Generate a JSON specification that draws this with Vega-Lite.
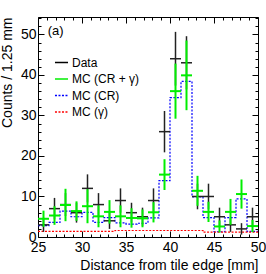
{
  "$schema": "https://vega.github.io/schema/vega-lite/v6.json",
  "autosize": "none",
  "width": 220,
  "height": 220,
  "padding": {"left": 38, "top": 17, "right": 8, "bottom": 37},
  "background": "white",
  "config": {
    "view": {"stroke": "black", "strokeWidth": 1},
    "font": "Liberation Sans",
    "axis": {"domain": false, "grid": false, "labelFont": "Liberation Sans", "titleFont": "Liberation Sans", "labelColor": "black", "titleColor": "black", "tickColor": "black", "labelFontSize": 14, "titleFontSize": 14, "titleFontWeight": "normal"}
  },
  "datasets": {
    "bins": [
      {"lo": 25.0, "hi": 26.25, "c": 25.625, "d": 3, "dlo": 1.27, "dhi": 4.73, "m": 4.5, "mlo": 2.5, "mhi": 6.5},
      {"lo": 26.25, "hi": 27.5, "c": 26.875, "d": 7, "dlo": 4.35, "dhi": 9.65, "m": 5.3, "mlo": 3.0, "mhi": 7.6},
      {"lo": 27.5, "hi": 28.75, "c": 28.125, "d": 8, "dlo": 5.17, "dhi": 10.83, "m": 7.9, "mlo": 3.9, "mhi": 11.9},
      {"lo": 28.75, "hi": 30.0, "c": 29.375, "d": 6, "dlo": 3.55, "dhi": 8.45, "m": 6.4, "mlo": 4.0, "mhi": 8.8},
      {"lo": 30.0, "hi": 31.25, "c": 30.625, "d": 12, "dlo": 8.54, "dhi": 15.46, "m": 7.6, "mlo": 3.4, "mhi": 11.8},
      {"lo": 31.25, "hi": 32.5, "c": 31.875, "d": 8, "dlo": 5.17, "dhi": 10.83, "m": 5.1, "mlo": 2.4, "mhi": 7.8},
      {"lo": 32.5, "hi": 33.75, "c": 33.125, "d": 4, "dlo": 2.0, "dhi": 6.0, "m": 6.2, "mlo": 3.3, "mhi": 9.1},
      {"lo": 33.75, "hi": 35.0, "c": 34.375, "d": 9, "dlo": 6.0, "dhi": 12.0, "m": 5.1, "mlo": 2.4, "mhi": 7.8},
      {"lo": 35.0, "hi": 36.25, "c": 35.625, "d": 6, "dlo": 3.55, "dhi": 8.45, "m": 4.7, "mlo": 2.3, "mhi": 7.1},
      {"lo": 36.25, "hi": 37.5, "c": 36.875, "d": 5, "dlo": 2.76, "dhi": 7.24, "m": 4.6, "mlo": 2.4, "mhi": 6.8},
      {"lo": 37.5, "hi": 38.75, "c": 38.125, "d": 9, "dlo": 6.0, "dhi": 12.0, "m": 6.1, "mlo": 3.6, "mhi": 8.6},
      {"lo": 38.75, "hi": 40.0, "c": 39.375, "d": 26, "dlo": 20.9, "dhi": 31.1, "m": 15.4, "mlo": 11.6, "mhi": 19.2},
      {"lo": 40.0, "hi": 41.25, "c": 40.625, "d": 44, "dlo": 37.37, "dhi": 50.63, "m": 36.0, "mlo": 29.2, "mhi": 42.8},
      {"lo": 41.25, "hi": 42.5, "c": 41.875, "d": 43, "dlo": 36.44, "dhi": 49.56, "m": 39.9, "mlo": 31.3, "mhi": 48.5},
      {"lo": 42.5, "hi": 43.75, "c": 43.125, "d": 10, "dlo": 6.84, "dhi": 13.16, "m": 11.4, "mlo": 7.7, "mhi": 15.1},
      {"lo": 43.75, "hi": 45.0, "c": 44.375, "d": 10, "dlo": 6.84, "dhi": 13.16, "m": 6.2, "mlo": 3.7, "mhi": 8.7},
      {"lo": 45.0, "hi": 46.25, "c": 45.625, "d": 5, "dlo": 2.76, "dhi": 7.24, "m": 2.6, "mlo": 1.1, "mhi": 4.1},
      {"lo": 46.25, "hi": 47.5, "c": 46.875, "d": 3, "dlo": 1.27, "dhi": 4.73, "m": 6.2, "mlo": 3.0, "mhi": 9.4},
      {"lo": 47.5, "hi": 48.75, "c": 48.125, "d": 2, "dlo": 0.59, "dhi": 3.41, "m": 10.6, "mlo": 7.0, "mhi": 14.2},
      {"lo": 48.75, "hi": 50.0, "c": 49.375, "d": 5, "dlo": 2.76, "dhi": 7.24, "m": 2.7, "mlo": 1.2, "mhi": 4.2}
    ],
    "steps": [
      {"e": 25.0, "s": "MC (CR)", "v": 2.8}, {"e": 26.25, "s": "MC (CR)", "v": 3.6}, {"e": 27.5, "s": "MC (CR)", "v": 6.4}, {"e": 28.75, "s": "MC (CR)", "v": 5.0},
      {"e": 30.0, "s": "MC (CR)", "v": 6.1}, {"e": 31.25, "s": "MC (CR)", "v": 3.6}, {"e": 32.5, "s": "MC (CR)", "v": 4.8}, {"e": 33.75, "s": "MC (CR)", "v": 3.5},
      {"e": 35.0, "s": "MC (CR)", "v": 3.2}, {"e": 36.25, "s": "MC (CR)", "v": 3.4}, {"e": 37.5, "s": "MC (CR)", "v": 4.7}, {"e": 38.75, "s": "MC (CR)", "v": 13.9},
      {"e": 40.0, "s": "MC (CR)", "v": 34.4}, {"e": 41.25, "s": "MC (CR)", "v": 38.4}, {"e": 42.5, "s": "MC (CR)", "v": 9.9}, {"e": 43.75, "s": "MC (CR)", "v": 4.8},
      {"e": 45.0, "s": "MC (CR)", "v": 1.3}, {"e": 46.25, "s": "MC (CR)", "v": 4.8}, {"e": 47.5, "s": "MC (CR)", "v": 9.4}, {"e": 48.75, "s": "MC (CR)", "v": 1.4},
      {"e": 50.0, "s": "MC (CR)", "v": 1.4},
      {"e": 25.0, "s": "MC (γ)", "v": 1.4}, {"e": 26.25, "s": "MC (γ)", "v": 1.4}, {"e": 27.5, "s": "MC (γ)", "v": 1.4}, {"e": 28.75, "s": "MC (γ)", "v": 1.4},
      {"e": 30.0, "s": "MC (γ)", "v": 1.4}, {"e": 31.25, "s": "MC (γ)", "v": 1.4}, {"e": 32.5, "s": "MC (γ)", "v": 1.4}, {"e": 33.75, "s": "MC (γ)", "v": 1.6},
      {"e": 35.0, "s": "MC (γ)", "v": 1.6}, {"e": 36.25, "s": "MC (γ)", "v": 1.6}, {"e": 37.5, "s": "MC (γ)", "v": 1.6}, {"e": 38.75, "s": "MC (γ)", "v": 1.6},
      {"e": 40.0, "s": "MC (γ)", "v": 1.6}, {"e": 41.25, "s": "MC (γ)", "v": 1.6}, {"e": 42.5, "s": "MC (γ)", "v": 1.6}, {"e": 43.75, "s": "MC (γ)", "v": 1.2},
      {"e": 45.0, "s": "MC (γ)", "v": 1.2}, {"e": 46.25, "s": "MC (γ)", "v": 1.2}, {"e": 47.5, "s": "MC (γ)", "v": 1.2}, {"e": 48.75, "s": "MC (γ)", "v": 1.2},
      {"e": 50.0, "s": "MC (γ)", "v": 1.2}
    ]
  },
  "resolve": {"axis": {"x": "independent", "y": "independent"}},
  "layer": [
    {
      "data": {"name": "steps"},
      "mark": {"type": "line", "interpolate": "step-after", "clip": true},
      "encoding": {
        "x": {"field": "e", "type": "quantitative", "scale": {"domain": [25, 50], "nice": false, "zero": false},
          "axis": {"orient": "bottom", "title": "Distance from tile edge [mm]", "titleAnchor": "end", "titlePadding": 4,
            "values": [25,26,27,28,29,30,31,32,33,34,35,36,37,38,39,40,41,42,43,44,45,46,47,48,49,50],
            "labelExpr": "datum.value % 5 === 0 ? datum.label : ''",
            "tickSize": {"condition": {"test": "datum.value % 5 === 0", "value": -6}, "value": -3},
            "labelPadding": 9, "labelFlush": false}},
        "y": {"field": "v", "type": "quantitative", "scale": {"domain": [0, 54.3], "nice": false},
          "axis": {"orient": "left", "title": "Counts / 1.25 mm", "titleAnchor": "end", "titlePadding": 6,
            "values": [0,2,4,6,8,10,12,14,16,18,20,22,24,26,28,30,32,34,36,38,40,42,44,46,48,50,52,54],
            "labelExpr": "datum.value % 10 === 0 ? datum.label : ''",
            "tickSize": {"condition": {"test": "datum.value % 10 === 0", "value": -6}, "value": -3},
            "labelPadding": 8}},
        "color": {"field": "s", "type": "nominal",
          "scale": {"domain": ["Data", "MC (CR + γ)", "MC (CR)", "MC (γ)"], "range": ["#000000", "#00ee00", "#0000ff", "#ff0000"]},
          "legend": {"title": null, "orient": "none", "legendX": 16, "legendY": 38, "symbolType": "stroke", "symbolSize": 170,
            "labelFontSize": 12, "labelFont": "Liberation Sans", "labelColor": "black", "rowPadding": 2.5, "labelOffset": 3, "symbolStrokeWidth": 1.5}},
        "strokeDash": {"field": "s", "type": "nominal",
          "scale": {"domain": ["Data", "MC (CR + γ)", "MC (CR)", "MC (γ)"], "range": [[1, 0], [1, 0], [2, 1.5], [2, 1.5]]},
          "legend": {"title": null, "orient": "none", "legendX": 16, "legendY": 38, "symbolType": "stroke", "symbolSize": 170,
            "labelFontSize": 12, "labelFont": "Liberation Sans", "labelColor": "black", "rowPadding": 2.5, "labelOffset": 3, "symbolStrokeWidth": 1.5}},
        "strokeWidth": {"value": 1.2}
      }
    },
    {
      "data": {"name": "bins"},
      "mark": {"type": "rule", "color": "#222222", "strokeWidth": 1.5},
      "encoding": {
        "x": {"field": "c", "type": "quantitative",
          "axis": {"orient": "top", "title": null, "labels": false,
            "values": [25,26,27,28,29,30,31,32,33,34,35,36,37,38,39,40,41,42,43,44,45,46,47,48,49,50],
            "tickSize": {"condition": {"test": "datum.value % 5 === 0", "value": -6}, "value": -3}}},
        "y": {"field": "dlo", "type": "quantitative",
          "axis": {"orient": "right", "title": null, "labels": false,
            "values": [0,2,4,6,8,10,12,14,16,18,20,22,24,26,28,30,32,34,36,38,40,42,44,46,48,50,52,54],
            "tickSize": {"condition": {"test": "datum.value % 10 === 0", "value": -6}, "value": -3}}},
        "y2": {"field": "dhi"}
      }
    },
    {
      "data": {"name": "bins"},
      "mark": {"type": "rule", "color": "#222222", "strokeWidth": 1.5},
      "encoding": {
        "x": {"field": "lo", "type": "quantitative", "axis": null},
        "x2": {"field": "hi"},
        "y": {"field": "d", "type": "quantitative", "axis": null}
      }
    },
    {
      "data": {"name": "bins"},
      "mark": {"type": "rule", "color": "#00ee00", "strokeWidth": 2},
      "encoding": {
        "x": {"field": "c", "type": "quantitative", "axis": null},
        "y": {"field": "mlo", "type": "quantitative", "axis": null},
        "y2": {"field": "mhi"}
      }
    },
    {
      "data": {"name": "bins"},
      "mark": {"type": "rule", "color": "#00ee00", "strokeWidth": 2},
      "encoding": {
        "x": {"field": "lo", "type": "quantitative", "axis": null},
        "x2": {"field": "hi"},
        "y": {"field": "m", "type": "quantitative", "axis": null}
      }
    },
    {
      "data": {"values": [{"t": "(a)"}]},
      "mark": {"type": "text", "align": "left", "baseline": "middle", "fontSize": 13, "font": "Liberation Sans", "color": "black"},
      "encoding": {
        "x": {"datum": 26.1, "type": "quantitative", "axis": null},
        "y": {"datum": 50.9, "type": "quantitative", "axis": null},
        "text": {"field": "t"}
      }
    }
  ]
}
